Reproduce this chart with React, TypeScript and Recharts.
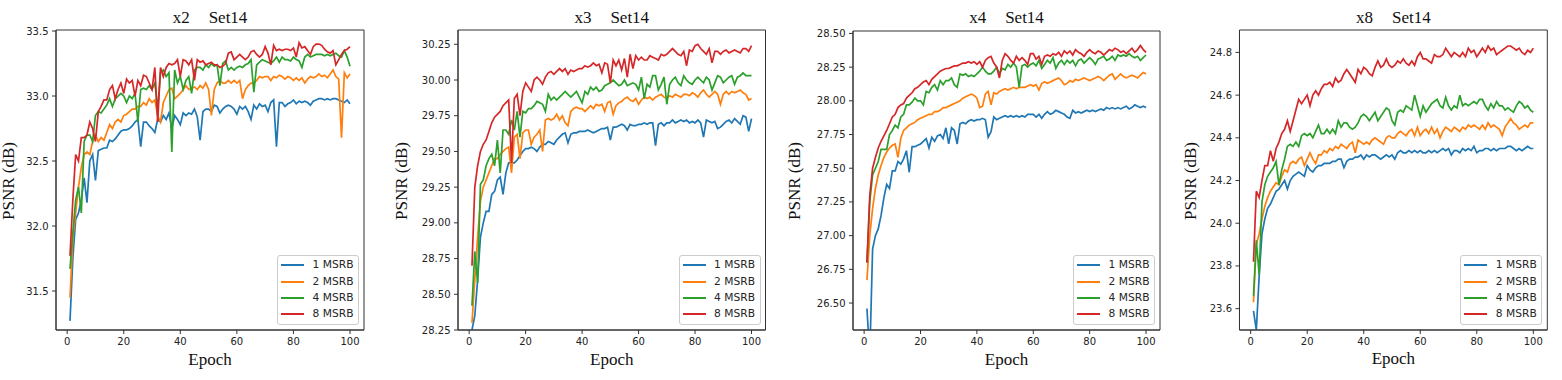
import React from "react";
import { LineChart, Line, XAxis, YAxis, Legend, ReferenceArea } from "recharts";

// epochs on the x axis
const EPOCHS = Array.from({ length: 100 }, (_, i) => i + 1);
const X_TICKS = [0, 20, 40, 60, 80, 100];
const X_DOMAIN: [number, number] = [-3.95, 104.95];
const SERIES_NAMES = ["1 MSRB", "2 MSRB", "4 MSRB", "8 MSRB"];
const COLORS = ["#1f77b4", "#ff7f0e", "#2ca02c", "#d62728"];

// ---- x2 Set14 ----
const x2Ticks = [31.5, 32.0, 32.5, 33.0, 33.5];
const x2M1 = [
  31.27, 31.75, 32.05, 32.1, 32.2, 32.37, 32.18, 32.5, 32.55, 32.35,
  32.58, 32.59, 32.6, 32.6, 32.66, 32.65, 32.67, 32.7, 32.73, 32.74,
  32.74, 32.75, 32.77, 32.8, 32.82, 32.61, 32.8, 32.8, 32.77, 32.75,
  32.72, 32.82, 32.8, 32.85, 32.82, 32.87, 32.75, 32.85, 32.82, 32.78,
  32.87, 32.85, 32.87, 32.86, 32.9, 32.84, 32.66, 32.88, 32.9, 32.9,
  32.88, 32.93, 32.92, 32.87, 32.9, 32.92, 32.93, 32.92, 32.9, 32.86,
  32.92, 32.9, 32.92, 32.88, 32.82, 32.93, 32.9, 32.94, 32.92, 32.93,
  32.88, 32.95, 32.97, 32.61, 32.95, 32.95, 32.92, 32.94, 32.95, 32.97,
  32.94, 32.96, 32.95, 32.96, 32.95, 32.93, 32.96, 32.97, 32.98, 32.98,
  32.97, 32.98, 32.97, 32.98, 32.98, 32.97, 32.96, 32.95, 32.97, 32.94,
];
const x2M2 = [
  31.45, 31.9, 32.1, 32.3, 32.45, 32.55, 32.57, 32.55, 32.65, 32.7,
  32.65, 32.68, 32.66, 32.72, 32.78, 32.75, 32.8, 32.82, 32.8, 32.85,
  32.86, 32.88, 32.9, 32.9, 32.92, 32.92, 32.95, 32.93, 32.98, 32.95,
  32.97, 32.85, 32.8, 32.95, 33.0, 33.05, 33.06, 32.98, 33.0, 33.02,
  33.05, 33.08, 33.05, 33.06, 33.07, 33.05, 33.08, 33.06, 33.1, 33.05,
  32.85, 33.05, 33.1, 33.12, 33.1, 33.1, 33.12, 33.1, 33.12, 33.1,
  33.12, 32.98, 33.05, 33.08, 33.1, 33.1, 33.12, 33.15, 33.14, 33.15,
  33.15, 33.12, 33.15, 33.14, 33.16, 33.15, 33.13, 33.15, 33.14, 33.12,
  33.14, 33.12, 33.14, 33.1, 33.13, 33.15, 33.14, 33.15, 33.17, 33.15,
  33.16, 33.14, 33.17, 33.2, 33.15, 33.13, 32.68, 33.18, 33.14, 33.17,
];
const x2M4 = [
  31.67, 31.95, 32.2, 32.3, 32.1, 32.65, 32.7, 32.7, 32.65, 32.85,
  32.88, 32.87, 32.9, 32.93, 32.98, 32.92, 32.98, 33.0, 33.02, 33.0,
  32.95, 33.0, 32.98, 33.02, 32.8, 33.05, 33.06, 33.05, 33.08, 33.05,
  33.1, 32.9, 33.18, 33.2, 33.15, 33.18, 32.57, 33.2, 33.1, 33.15,
  33.05, 33.12, 33.15, 33.02, 33.2, 33.22, 33.22, 33.2, 33.24, 33.22,
  33.25, 33.23, 33.24, 33.08, 33.25, 33.27, 33.2, 33.22, 33.2, 33.22,
  33.23, 33.22, 33.24, 33.25, 33.28, 33.03, 33.24, 33.26, 33.28, 33.27,
  33.26, 33.25, 33.27, 33.3, 33.26, 33.3, 33.28, 33.28, 33.27, 33.3,
  33.28, 33.27, 33.22, 33.3, 33.32, 33.3, 33.31, 33.32, 33.32, 33.32,
  33.31, 33.32, 33.31, 33.32, 33.33, 33.31, 33.3, 33.35, 33.3, 33.23,
];
const x2M8 = [
  31.77, 32.2, 32.55, 32.5, 32.68, 32.68, 32.7, 32.8, 32.75, 32.65,
  32.88, 32.92, 32.97, 32.97, 33.05, 33.08, 32.98, 33.05, 33.1, 33.02,
  33.13, 33.1, 33.12, 33.0, 33.12, 33.08, 33.16, 33.15, 33.1, 33.05,
  33.22, 32.8, 33.22, 33.15, 33.22, 33.25, 33.24, 33.25, 33.28, 33.15,
  33.28, 33.27, 33.24, 33.28, 33.12, 33.28, 33.26, 33.27, 33.24, 33.25,
  33.26, 33.24, 33.24, 33.22, 33.23, 33.25, 33.33, 33.34, 33.28, 33.3,
  33.32, 33.3, 33.28, 33.3, 33.34, 33.35, 33.32, 33.3, 33.32, 33.38,
  33.33, 33.24, 33.39, 33.35, 33.36, 33.35, 33.36, 33.36, 33.35, 33.37,
  33.3, 33.41, 33.37, 33.38, 33.35, 33.32, 33.38, 33.4, 33.4, 33.39,
  33.36, 33.34, 33.33, 33.35, 33.24, 33.28, 33.32, 33.35, 33.36, 33.38,
];

// ---- x3 Set14 ----
const x3Ticks = [28.25, 28.5, 28.75, 29.0, 29.25, 29.5, 29.75, 30.0, 30.25];
const x3M1 = [
  28.25, 28.35, 28.6, 28.9, 29.0, 29.08, 29.08, 29.2, 29.22, 29.3,
  29.32, 29.2, 29.35, 29.42, 29.42, 29.42, 29.44, 29.47, 29.5, 29.52,
  29.52, 29.53, 29.52, 29.5, 29.53, 29.55, 29.55, 29.57, 29.56, 29.55,
  29.58, 29.6, 29.62, 29.63, 29.56, 29.62, 29.63, 29.63, 29.64, 29.64,
  29.64, 29.65, 29.64, 29.63, 29.64, 29.65, 29.66, 29.66, 29.67, 29.58,
  29.67, 29.67, 29.68, 29.69, 29.68, 29.65, 29.69, 29.68, 29.68, 29.69,
  29.69, 29.7, 29.69, 29.7, 29.7, 29.54, 29.69, 29.7, 29.68, 29.7,
  29.7, 29.72, 29.7, 29.71, 29.72, 29.71, 29.72, 29.7, 29.71, 29.7,
  29.72, 29.7, 29.6, 29.72, 29.71, 29.7, 29.71, 29.66, 29.67, 29.69,
  29.71, 29.72, 29.7, 29.73, 29.71, 29.69, 29.75, 29.74, 29.64, 29.73,
];
const x3M2 = [
  28.3, 28.6, 28.9, 29.15, 29.25, 29.3, 29.35, 29.4, 29.45, 29.45,
  29.48, 29.5, 29.52, 29.53, 29.35, 29.6, 29.62, 29.45, 29.63, 29.65,
  29.65, 29.55, 29.6, 29.62, 29.65, 29.5, 29.72, 29.73, 29.72, 29.73,
  29.76, 29.72, 29.75, 29.7, 29.68, 29.78, 29.8, 29.81, 29.8, 29.8,
  29.78, 29.8, 29.82, 29.8, 29.83, 29.82, 29.83, 29.78, 29.84, 29.85,
  29.76, 29.82, 29.84, 29.85, 29.87, 29.88, 29.86, 29.85, 29.87, 29.83,
  29.86, 29.88, 29.87, 29.88, 29.86, 29.88, 29.89, 29.9, 29.88, 29.87,
  29.89, 29.88, 29.9, 29.89, 29.88, 29.9, 29.9, 29.89, 29.91, 29.9,
  29.88, 29.91, 29.93, 29.9, 29.88, 29.9, 29.92, 29.9, 29.83, 29.9,
  29.92, 29.9, 29.92, 29.91, 29.92, 29.93, 29.91, 29.9, 29.86, 29.87,
];
const x3M4 = [
  28.42, 28.8, 28.58, 29.27, 29.3, 29.4, 29.45, 29.48, 29.4, 29.58,
  29.35, 29.65, 29.65, 29.62, 29.72, 29.65, 29.78, 29.6, 29.78, 29.77,
  29.8, 29.8, 29.82, 29.85, 29.84, 29.83, 29.78, 29.9, 29.86, 29.88,
  29.86, 29.88, 29.9, 29.92, 29.9, 29.88, 29.9, 29.92, 29.88, 29.84,
  29.92, 29.9, 29.95, 29.93, 29.95, 29.92, 29.93, 29.96, 29.97, 29.98,
  30.0, 29.98, 29.96, 29.97, 30.0, 29.96, 29.97, 29.98, 29.97, 29.93,
  30.02, 29.87, 29.97, 29.95, 30.03, 30.03, 29.93, 29.97, 30.02, 29.83,
  29.97, 30.0, 30.02, 29.98, 29.96, 30.03, 30.0, 29.98, 29.97, 30.0,
  30.02, 30.0, 29.98, 30.02, 30.0, 29.93, 29.98, 30.03, 30.02, 29.98,
  30.0, 30.02, 30.03, 29.97, 30.02, 30.03, 30.05, 30.03, 30.03, 30.03,
];
const x3M8 = [
  28.7, 29.25, 29.4, 29.5, 29.55, 29.58, 29.64, 29.7, 29.74, 29.76,
  29.78, 29.82, 29.84, 29.86, 29.42, 29.87, 29.9, 29.75, 29.92, 29.98,
  29.95, 29.92, 30.0, 30.02, 30.0, 29.97, 30.02, 30.05, 30.06, 30.04,
  30.06, 30.08, 30.06, 30.08, 30.04, 30.07, 30.06, 30.07, 30.08, 30.08,
  30.1, 30.09, 30.1, 30.12, 30.1, 30.11, 30.05, 30.12, 30.11, 29.98,
  30.14, 30.1, 30.14, 30.07, 30.15, 30.02, 30.18, 30.08, 30.17, 30.14,
  30.16, 30.14, 30.14, 30.17, 30.16, 30.15, 30.14, 30.18, 30.17, 30.18,
  30.2, 30.22, 30.2, 30.18, 30.17, 30.2, 30.1, 30.21, 30.2, 30.24,
  30.25, 30.22, 30.2, 30.18, 30.22, 30.12, 30.2, 30.2, 30.18, 30.2,
  30.21, 30.19, 30.2, 30.21, 30.2, 30.19, 30.22, 30.22, 30.2, 30.24,
];

// ---- x4 Set14 ----
const x4Ticks = [26.5, 26.75, 27.0, 27.25, 27.5, 27.75, 28.0, 28.25, 28.5];
const x4M1 = [
  26.46, 26.1, 26.9, 27.0, 27.05, 27.15, 27.28, 27.38, 27.35, 27.48,
  27.48, 27.55, 27.53, 27.57, 27.63, 27.47, 27.66, 27.66, 27.67, 27.68,
  27.7, 27.72, 27.65, 27.73, 27.7, 27.74, 27.75, 27.72, 27.8, 27.68,
  27.8, 27.78, 27.68, 27.83, 27.84, 27.83, 27.85, 27.86, 27.85, 27.86,
  27.86, 27.87, 27.86, 27.73, 27.77, 27.88, 27.86, 27.87, 27.88, 27.89,
  27.88, 27.89, 27.88, 27.89, 27.88, 27.89, 27.88, 27.9, 27.9, 27.9,
  27.88, 27.9, 27.87, 27.9, 27.92, 27.9, 27.91, 27.93, 27.92, 27.91,
  27.9, 27.88, 27.87, 27.93, 27.91, 27.92, 27.91, 27.92, 27.93, 27.92,
  27.93, 27.92, 27.93, 27.94, 27.93, 27.95, 27.94, 27.95, 27.94, 27.95,
  27.94, 27.95, 27.96, 27.94, 27.95, 27.97, 27.96, 27.95, 27.96, 27.95,
];
const x4M2 = [
  26.67, 27.0, 27.2, 27.35, 27.45, 27.52, 27.58, 27.62, 27.65, 27.67,
  27.68, 27.58, 27.72, 27.78, 27.8, 27.82, 27.83, 27.84, 27.86, 27.87,
  27.88, 27.89, 27.9, 27.9, 27.92, 27.92, 27.93, 27.95, 27.95, 27.96,
  27.97, 27.98, 27.99, 28.0, 28.02, 28.03, 28.04, 28.05, 28.04, 28.02,
  27.95, 27.96, 28.05, 28.07, 27.97, 28.06, 28.05, 28.07, 28.08, 28.09,
  28.08, 28.09, 28.1, 28.09, 28.1, 28.1, 28.1, 28.11, 28.12, 28.11,
  28.12, 28.08, 28.13, 28.14, 28.13, 28.14, 28.15, 28.16, 28.17, 28.15,
  28.12, 28.13, 28.15, 28.14, 28.16, 28.15, 28.16, 28.17, 28.16, 28.15,
  28.16, 28.17, 28.18, 28.17, 28.15, 28.17, 28.19, 28.2, 28.16, 28.18,
  28.2, 28.18, 28.17, 28.18, 28.19, 28.18, 28.17, 28.19, 28.21, 28.2,
];
const x4M4 = [
  26.8, 27.25, 27.45, 27.5, 27.55, 27.64, 27.64, 27.64, 27.75, 27.78,
  27.82, 27.8, 27.88, 27.9, 27.97, 27.97, 27.99, 28.02, 28.0, 28.0,
  27.97, 28.07, 28.06, 28.1, 28.12, 28.08, 28.15, 28.12, 28.15, 28.15,
  28.17, 28.12, 28.1, 28.2, 28.19, 28.2, 28.18, 28.19, 28.18, 28.2,
  28.22, 28.25, 28.22, 28.2, 28.2, 28.22, 28.25, 28.2, 28.24, 28.23,
  28.27, 28.25, 28.28, 28.25, 28.1, 28.26, 28.27, 28.25, 28.27, 28.28,
  28.26, 28.3, 28.24, 28.27, 28.3, 28.28, 28.32, 28.24, 28.28, 28.3,
  28.27, 28.3, 28.28, 28.3, 28.26, 28.3, 28.31, 28.28, 28.3, 28.32,
  28.3, 28.27, 28.31, 28.32, 28.33, 28.3, 28.31, 28.33, 28.3, 28.34,
  28.33, 28.34, 28.33, 28.35, 28.33, 28.32, 28.33, 28.3, 28.32, 28.34,
];
const x4M8 = [
  26.8, 27.3, 27.5, 27.58, 27.65, 27.7, 27.74, 27.78, 27.83, 27.88,
  27.9, 27.95, 27.97, 27.98, 28.02, 28.04, 28.06, 28.09, 28.1, 28.12,
  28.14, 28.15, 28.12, 28.16, 28.18, 28.2, 28.22, 28.23, 28.24, 28.24,
  28.25, 28.26, 28.26, 28.27, 28.28, 28.28, 28.29, 28.28, 28.29, 28.27,
  28.29, 28.25, 28.3, 28.32, 28.33, 28.28, 28.25, 28.17, 28.3, 28.35,
  28.33, 28.3, 28.28, 28.33, 28.3, 28.32, 28.3, 28.27, 28.35, 28.35,
  28.31, 28.33, 28.27, 28.33, 28.34, 28.33, 28.35, 28.34, 28.36, 28.33,
  28.37, 28.35, 28.37, 28.34, 28.38, 28.36, 28.35, 28.33, 28.36, 28.38,
  28.36, 28.35, 28.37, 28.36, 28.34, 28.36, 28.38, 28.37, 28.39, 28.38,
  28.36, 28.37, 28.35, 28.37, 28.39, 28.36, 28.38, 28.41, 28.38, 28.36,
];

// ---- x8 Set14 ----
const x8Ticks = [23.6, 23.8, 24.0, 24.2, 24.4, 24.6, 24.8];
const x8M1 = [
  23.59, 23.5, 23.75, 23.95, 24.02, 24.07, 24.09, 24.12, 24.15, 24.16,
  24.18, 24.2, 24.16, 24.2, 24.22, 24.23, 24.24, 24.23, 24.22, 24.27,
  24.25, 24.24, 24.26, 24.27, 24.27, 24.28, 24.28, 24.28, 24.29, 24.29,
  24.3, 24.3, 24.26, 24.29, 24.3, 24.3, 24.31, 24.31, 24.32, 24.3,
  24.32, 24.31, 24.32, 24.32, 24.31, 24.3, 24.31, 24.32, 24.31, 24.32,
  24.3, 24.33, 24.34, 24.33, 24.33, 24.34, 24.33, 24.34, 24.33, 24.34,
  24.33, 24.33, 24.34, 24.33, 24.34, 24.33, 24.34, 24.35, 24.34, 24.35,
  24.32, 24.34, 24.34, 24.33, 24.35, 24.34, 24.35, 24.34, 24.36, 24.33,
  24.34, 24.34, 24.35, 24.35, 24.34, 24.35, 24.34, 24.35, 24.35, 24.35,
  24.36, 24.36, 24.35, 24.34, 24.35, 24.34, 24.35, 24.36, 24.35, 24.35,
];
const x8M2 = [
  23.63, 23.9, 23.95, 24.02, 24.08, 24.12, 24.15, 24.17, 24.19, 24.18,
  24.22, 24.25, 24.24, 24.28, 24.29, 24.28, 24.3, 24.31, 24.27, 24.3,
  24.33, 24.3, 24.28, 24.32, 24.32, 24.34, 24.33, 24.35, 24.34, 24.36,
  24.35, 24.37, 24.36, 24.35, 24.37, 24.38, 24.33, 24.39, 24.38, 24.37,
  24.38, 24.37, 24.39, 24.4, 24.39, 24.38, 24.37, 24.4, 24.41, 24.4,
  24.4, 24.42, 24.43, 24.42, 24.41, 24.43, 24.44, 24.41, 24.45, 24.41,
  24.43, 24.44, 24.42, 24.45, 24.42, 24.44, 24.4, 24.43, 24.45, 24.44,
  24.43, 24.45, 24.44, 24.43, 24.45, 24.44, 24.46, 24.45, 24.46, 24.45,
  24.44, 24.46, 24.44, 24.47, 24.45, 24.46, 24.45, 24.44, 24.41, 24.45,
  24.47, 24.49, 24.47, 24.46, 24.44, 24.45, 24.46, 24.45, 24.47, 24.47,
];
const x8M4 = [
  23.66, 23.92, 23.76, 24.1, 24.18, 24.22, 24.24, 24.26, 24.29, 24.18,
  24.25, 24.3, 24.36, 24.37, 24.36, 24.38, 24.36, 24.41, 24.42, 24.41,
  24.42, 24.4, 24.43, 24.46, 24.42, 24.42, 24.44, 24.42, 24.44, 24.42,
  24.48, 24.45, 24.47, 24.47, 24.45, 24.44, 24.45, 24.47, 24.5, 24.51,
  24.5, 24.48, 24.5, 24.52, 24.48, 24.5, 24.52, 24.54, 24.53, 24.48,
  24.46, 24.52, 24.53, 24.52, 24.55, 24.54, 24.53, 24.6, 24.55, 24.5,
  24.55, 24.52, 24.54, 24.56, 24.57, 24.58, 24.55, 24.54, 24.59, 24.55,
  24.53, 24.55, 24.54, 24.6, 24.55, 24.56, 24.55, 24.56, 24.57, 24.56,
  24.58, 24.58, 24.55, 24.53, 24.56, 24.54, 24.57, 24.55, 24.55, 24.53,
  24.54, 24.53, 24.52, 24.55, 24.57, 24.56, 24.54, 24.55, 24.53, 24.52,
];
const x8M8 = [
  23.82, 24.15, 24.12, 24.2, 24.27, 24.27, 24.34, 24.29, 24.35, 24.38,
  24.42, 24.44, 24.48, 24.43, 24.48, 24.53, 24.58, 24.56, 24.58, 24.6,
  24.55, 24.6, 24.62, 24.6, 24.63, 24.65, 24.65, 24.66, 24.64, 24.68,
  24.66, 24.67, 24.7, 24.72, 24.7, 24.68, 24.66, 24.72, 24.7, 24.73,
  24.72, 24.7, 24.69, 24.73, 24.76, 24.73, 24.74, 24.77, 24.74, 24.73,
  24.74, 24.76, 24.75, 24.77, 24.75, 24.74, 24.76, 24.74, 24.78, 24.8,
  24.77, 24.77, 24.76, 24.75, 24.79, 24.78, 24.78, 24.79, 24.82, 24.8,
  24.78, 24.8, 24.79, 24.78, 24.8, 24.78, 24.82, 24.8, 24.81, 24.78,
  24.8, 24.82, 24.8, 24.83, 24.81, 24.82, 24.79, 24.8, 24.81, 24.82,
  24.83, 24.83, 24.82, 24.81, 24.82, 24.8, 24.79, 24.81, 24.8, 24.82,
];

const SERIF = "'Liberation Serif', 'Times New Roman', serif";
const SANS = "'DejaVu Sans', sans-serif";
const AXIS = "#333";
const PLOT_BOTTOM = 330;

// plain svg text used for the titles and axis titles
const SvgText = ({ tx, ty, rotate, children }: any) => (
  <text
    x={tx}
    y={ty}
    transform={rotate ? `rotate(-90 ${tx} ${ty})` : undefined}
    textAnchor="middle"
    fontFamily={SERIF}
    fontSize={17}
    fill="#111"
  >
    {children}
  </text>
);

// x axis title plus the panel title, both in one label element
const XTitles = ({ cx, scale }: any) => (
  <g>
    <SvgText tx={cx} ty={364.5}>Epoch</SvgText>
    <SvgText tx={cx} ty={23.3}>
      <tspan>{scale}</tspan>
      <tspan dx={19}>Set14</tspan>
    </SvgText>
  </g>
);

const LegendBox = () => (
  <div
    style={{
      width: 82,
      height: 70,
      boxSizing: "border-box",
      border: "1px solid #cccccc",
      borderRadius: 3,
      background: "rgba(255,255,255,0.8)",
      paddingTop: 1,
      paddingLeft: 3,
    }}
  >
    {SERIES_NAMES.map((name, k) => (
      <div key={name} style={{ height: 16.4, display: "flex", alignItems: "center" }}>
        <div style={{ width: 23, height: 2, background: COLORS[k] }} />
        <span
          style={{
            marginLeft: 8.5,
            fontFamily: SANS,
            fontSize: 10.7,
            color: "#262626",
            lineHeight: "12px",
          }}
        >
          {name}
        </span>
      </div>
    ))}
  </div>
);

type PanelProps = {
  scale: string;
  series: number[][];
  yTicks: number[];
  yDomain: [number, number];
  decimals: number;
  left: number;
  yAxisWidth: number;
  labelX: number;
  plotRight: number;
  plotTop: number;
};

const Panel = ({ scale, series, yTicks, yDomain, decimals, left, yAxisWidth, labelX, plotRight, plotTop }: PanelProps) => {
  const rows = EPOCHS.map((epoch, i) => ({
    epoch,
    s0: series[0][i],
    s1: series[1][i],
    s2: series[2][i],
    s3: series[3][i],
  }));
  const width = plotRight - left + 2;
  const plotCenter = (yAxisWidth + (plotRight - left)) / 2;
  const tickStyle = { fill: "#222", fontSize: 10, fontFamily: SANS };

  return (
    <div style={{ position: "absolute", left, top: 0 }}>
      <LineChart width={width} height={380} data={rows} margin={{ top: plotTop, right: 2, bottom: 0, left: 0 }}>
        <XAxis
          dataKey="epoch"
          type="number"
          domain={X_DOMAIN}
          allowDataOverflow
          ticks={X_TICKS}
          height={PLOT_BOTTOM === 330 ? 50 : 50}
          stroke={AXIS}
          tickSize={4}
          tickMargin={4}
          tick={tickStyle}
          label={<XTitles cx={plotCenter} scale={scale} />}
        />
        <YAxis
          type="number"
          domain={yDomain}
          allowDataOverflow
          ticks={yTicks}
          width={yAxisWidth}
          stroke={AXIS}
          tickSize={4}
          tickMargin={3.5}
          tick={tickStyle}
          tickFormatter={(v: number) => v.toFixed(decimals)}
          label={<SvgText tx={labelX} ty={181} rotate>PSNR (dB)</SvgText>}
        />
        {/* box round the plot area, like matplotlib's four spines */}
        <ReferenceArea
          x1={X_DOMAIN[0]}
          x2={X_DOMAIN[1]}
          y1={yDomain[0]}
          y2={yDomain[1]}
          fill="none"
          fillOpacity={0}
          stroke={AXIS}
          strokeWidth={1}
          strokeOpacity={1}
          ifOverflow="extendDomain"
        />
        <Legend
          layout="vertical"
          align="center"
          verticalAlign="middle"
          wrapperStyle={{ left: plotRight - left - 5 - 82, top: PLOT_BOTTOM - 5 - 70, width: 82, height: 70 }}
          content={() => <LegendBox />}
        />
        {SERIES_NAMES.map((name, k) => (
          <Line
            key={name}
            name={name}
            dataKey={`s${k}`}
            type="linear"
            stroke={COLORS[k]}
            strokeWidth={1.7}
            dot={false}
            activeDot={false}
            isAnimationActive={false}
          />
        ))}
      </LineChart>
    </div>
  );
};

export default function App() {
  return (
    <div style={{ position: "absolute", left: 0, top: 0, width: 1562, height: 380, background: "#fff" }}>
      <Panel
        scale="x2"
        series={[x2M1, x2M2, x2M4, x2M8]}
        yTicks={x2Ticks}
        yDomain={[31.2, 33.508]}
        decimals={1}
        left={0}
        yAxisWidth={56}
        labelX={14}
        plotRight={364}
        plotTop={30}
      />
      <Panel
        scale="x3"
        series={[x3M1, x3M2, x3M4, x3M8]}
        yTicks={x3Ticks}
        yDomain={[28.25, 30.35]}
        decimals={2}
        left={390}
        yAxisWidth={68}
        labelX={17}
        plotRight={765.5}
        plotTop={30}
      />
      <Panel
        scale="x4"
        series={[x4M1, x4M2, x4M4, x4M8]}
        yTicks={x4Ticks}
        yDomain={[26.3, 28.518]}
        decimals={2}
        left={783}
        yAxisWidth={70}
        labelX={17}
        plotRight={1160}
        plotTop={31}
      />
      <Panel
        scale="x8"
        series={[x8M1, x8M2, x8M4, x8M8]}
        yTicks={x8Ticks}
        yDomain={[23.5, 24.905]}
        decimals={1}
        left={1179}
        yAxisWidth={60.5}
        labelX={17}
        plotRight={1547.3}
        plotTop={30}
      />
    </div>
  );
}
